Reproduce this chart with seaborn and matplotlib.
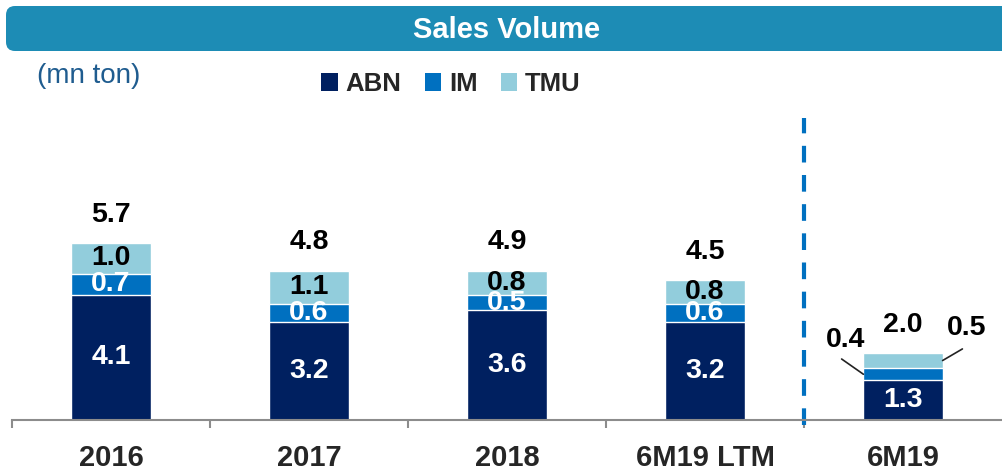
import pandas as pd
import seaborn as sns
import matplotlib.pyplot as plt
from matplotlib.patches import FancyBboxPatch, Patch

# Data (mn ton)
periods = ['2016', '2017', '2018', '6M19 LTM', '6M19']
abn = [4.1, 3.2, 3.6, 3.2, 1.3]
im = [0.7, 0.6, 0.5, 0.6, 0.4]
tmu = [1.0, 1.1, 0.8, 0.8, 0.5]
totals = [5.7, 4.8, 4.9, 4.5, 2.0]

colors = {'ABN': '#002060', 'IM': '#0070C0', 'TMU': '#92CDDC'}

sns.set_style('white')
plt.rcParams['font.family'] = ['Liberation Sans', 'DejaVu Sans']

df = pd.DataFrame({'Period': periods, 'ABN': abn, 'IM': im, 'TMU': tmu})
df['ABN+IM'] = df['ABN'] + df['IM']
df['Stack'] = df['ABN+IM'] + df['TMU']

fig = plt.figure(figsize=(10.02, 4.72), dpi=100)

# background layer: header band, unit note
over = fig.add_axes([0, 0, 1, 1])
over.set_xlim(0, 1002)
over.set_ylim(472, 0)
over.axis('off')
over.add_patch(FancyBboxPatch((6, 6), 1010, 45, boxstyle='round,pad=0,rounding_size=9',
                              facecolor='#1D8CB5', edgecolor='none'))
over.text(507, 30, 'Sales Volume', color='white', fontsize=21, fontweight='bold',
          ha='center', va='center')
over.text(37, 76, '(mn ton)', color='#1F5C8F', fontsize=20, ha='left', va='center')

ax = fig.add_axes([12 / 1002, 52 / 472, 990 / 1002, 360 / 472])
ax.patch.set_alpha(0)

# stacked bars: draw the cumulative heights from the top down
sns.barplot(data=df, x='Period', y='Stack', color=colors['TMU'], width=0.4,
            saturation=1, ax=ax)
sns.barplot(data=df, x='Period', y='ABN+IM', color=colors['IM'], width=0.4,
            saturation=1, ax=ax)
sns.barplot(data=df, x='Period', y='ABN', color=colors['ABN'], width=0.4,
            saturation=1, ax=ax)

ax.set_xlim(-0.5, 4.5)
ax.set_ylim(0, 360 / 30.5)
ax.set_xlabel('')
ax.set_ylabel('')
ax.set_yticks([])
ax.set_xticks(range(len(periods)))
ax.set_xticklabels(periods, fontsize=21, fontweight='bold')
ax.tick_params(axis='x', which='major', length=0, pad=17)
ax.set_xticks([i - 0.5 for i in range(len(periods))], minor=True)
ax.tick_params(axis='x', which='minor', bottom=True, length=6, width=1.5,
               color='#8c8c8c', direction='out')
for s in ['top', 'right', 'left']:
    ax.spines[s].set_visible(False)
ax.spines['bottom'].set_color('#8c8c8c')
ax.spines['bottom'].set_linewidth(1.5)

# segment and total labels
lab = dict(fontsize=20.5, fontweight='bold', ha='center', va='center')
for i, row in df.iterrows():
    ax.text(i, row['ABN'] / 2, f"{row['ABN']:.1f}", color='white', **lab)
    if i < 4:
        ax.text(i, row['ABN'] + row['IM'] / 2, f"{row['IM']:.1f}", color='white', **lab)
        ax.text(i, row['ABN+IM'] + row['TMU'] / 2, f"{row['TMU']:.1f}", color='black', **lab)
    ax.text(i, row['Stack'] + 0.92, f"{totals[i]:.1f}", color='black', **lab)

# callouts for the small 6M19 segments
ax.plot([3.69, 3.8], [2.0, abn[4] + im[4] / 2], color='#222222', lw=1.2)
ax.text(3.71, 2.62, f"{im[4]:.1f}", color='black', **lab)
ax.plot([4.30, 4.2], [2.33, abn[4] + im[4] + tmu[4] / 2], color='#222222', lw=1.2)
ax.text(4.32, 3.02, f"{tmu[4]:.1f}", color='black', **lab)

# separator between LTM and half-year
ax.axvline(3.5, ymin=-0.015, ymax=0.84, color='#0070C0', lw=3,
           linestyle=(0, (4, 3)), clip_on=False)

handles = [Patch(facecolor=colors[k], edgecolor='none') for k in ['ABN', 'IM', 'TMU']]
fig.legend(handles, ['ABN', 'IM', 'TMU'], loc='center', ncol=3, frameon=False,
           bbox_to_anchor=(451 / 1002, 1 - 84 / 472), handlelength=0.65,
           handleheight=0.65, handletextpad=0.3, columnspacing=0.9,
           prop={'size': 18.5, 'weight': 'bold'})

fig.savefig('out.png', dpi=100)
